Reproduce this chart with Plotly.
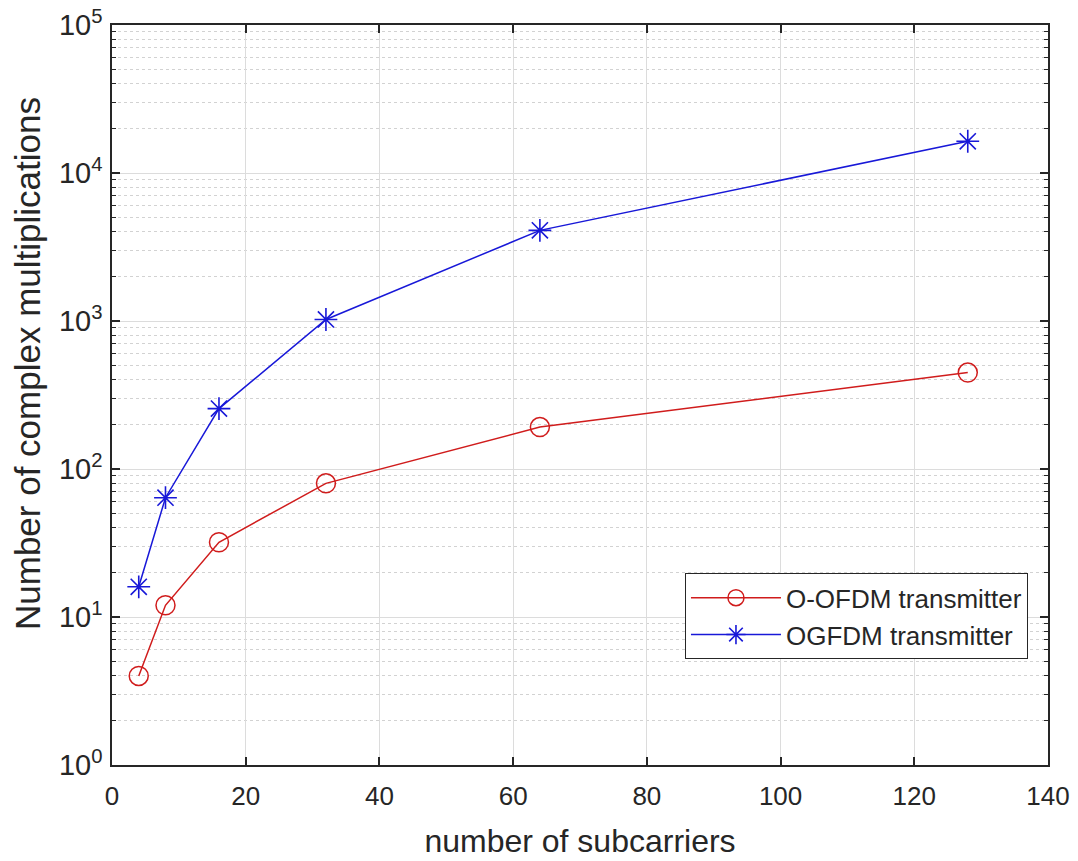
import plotly.graph_objects as go

subcarriers = [4, 8, 16, 32, 64, 128]
oofdm_mults = [4, 12, 32, 80, 192, 448]
ogfdm_mults = [16, 64, 256, 1024, 4096, 16384]

x_ticks = [0, 20, 40, 60, 80, 100, 120, 140]
y_ticks = [1, 10, 100, 1000, 10000, 100000]
y_ticktext = ["10<sup>0</sup>", "10<sup>1</sup>", "10<sup>2</sup>", "10<sup>3</sup>",
              "10<sup>4</sup>", "10<sup>5</sup>"]

FONT = "Liberation Sans, Arial, Helvetica, sans-serif"
TXT = "#262626"
GRID = "#dcdcdc"

fig = go.Figure()
fig.add_trace(go.Scatter(
    x=subcarriers, y=oofdm_mults, mode="lines+markers", name="O-OFDM transmitter",
    line=dict(color="#d01c1c", width=1.5),
    marker=dict(symbol="circle-open", size=19, color="#d01c1c", line=dict(width=1.5)),
))
fig.add_trace(go.Scatter(
    x=subcarriers, y=ogfdm_mults, mode="lines+markers", name="OGFDM transmitter",
    line=dict(color="#1818d8", width=1.5),
    marker=dict(symbol="asterisk-open", size=19, color="#1818d8", line=dict(width=1.6)),
))

fig.update_layout(
    width=1078, height=861,
    margin=dict(l=112, r=30, t=25, b=96),
    paper_bgcolor="white", plot_bgcolor="white",
    font=dict(family=FONT, size=26, color=TXT),
    showlegend=True,
    legend=dict(
        x=0.9786, y=0.259, xanchor="right", yanchor="top",
        bgcolor="white", bordercolor="#262626", borderwidth=1,
        font=dict(family=FONT, size=26, color=TXT),
        itemwidth=90, tracegroupgap=0,
    ),
    xaxis=dict(
        range=[0, 140], tickvals=x_ticks, ticks="inside", ticklen=8, tickwidth=1.5,
        tickcolor="#262626", automargin=False, ticklabelstandoff=7,
        showline=True, linecolor="#262626", linewidth=1.5, mirror="ticks",
        showgrid=True, gridcolor=GRID, gridwidth=1, zeroline=False,
        tickfont=dict(size=26, color=TXT),
        title=dict(text="number of subcarriers", font=dict(size=32, color=TXT), standoff=20),
    ),
    yaxis=dict(
        type="log", range=[0, 5], tickvals=y_ticks, ticktext=y_ticktext,
        ticks="inside", ticklen=8, tickwidth=1.5, tickcolor="#262626", automargin=False,
        ticklabelstandoff=2,
        showline=True, linecolor="#262626", linewidth=1.5, mirror="ticks",
        showgrid=True, gridcolor=GRID, gridwidth=1, zeroline=False,
        tickfont=dict(size=29, color=TXT),
        minor=dict(ticks="inside", ticklen=4, tickcolor="#262626", tickwidth=1,
                   showgrid=True, gridcolor="#d2d2d2", griddash="dot", gridwidth=1,
                   dtick="D1"),
    ),
    annotations=[dict(
        text="Number of complex multiplications", textangle=-90,
        xref="paper", yref="paper", x=-0.091, y=0.543, xanchor="center", yanchor="middle",
        showarrow=False, font=dict(family=FONT, size=35, color=TXT),
    )],
)

fig.write_html("out.html", config={"displayModeBar": False},
               post_script="document.body.style.margin='0';")
